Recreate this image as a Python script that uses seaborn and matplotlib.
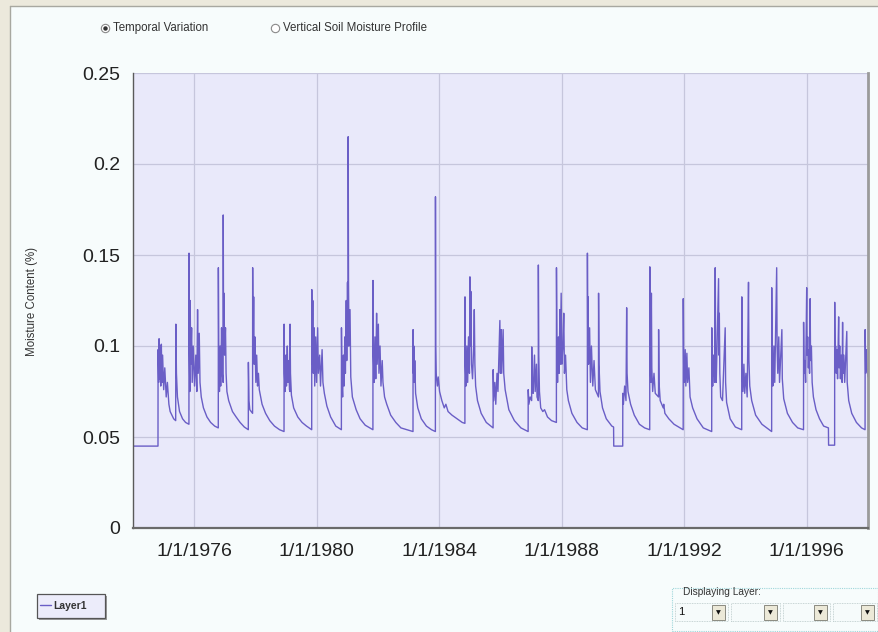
import matplotlib
matplotlib.use("Agg")
import matplotlib.pyplot as plt
import matplotlib.dates as mdates
from matplotlib.lines import Line2D
from matplotlib.patches import Rectangle
from matplotlib.ticker import FuncFormatter, FixedLocator
import pandas as pd
import seaborn as sns

# ---------------- data ----------------
series_name = "Layer1"
y_label = "Moisture Content (%)"
y_ticks = [0, 0.05, 0.1, 0.15, 0.2, 0.25]
y_tick_labels = ["0", "0.05", "0.1", "0.15", "0.2", "0.25"]
x_tick_years = [1976, 1980, 1984, 1988, 1992, 1996]
x_start, x_end = "1974-01-01", "1997-12-31"
radio_labels = ["Temporal Variation", "Vertical Soil Moisture Profile"]
layer_box_title = "Displaying Layer:"
layer_choices = ["1", "", "", ""]

period_1974_1979 = [
    ("1974-01-01", 0.045), ("1974-10-26", 0.045), ("1974-10-27", 0.098),
    ("1974-11-03", 0.080), ("1974-11-08", 0.104), ("1974-11-14", 0.082),
    ("1974-11-20", 0.100), ("1974-11-28", 0.078), ("1974-12-05", 0.101),
    ("1974-12-12", 0.080), ("1974-12-20", 0.095), ("1975-01-02", 0.076),
    ("1975-01-15", 0.088), ("1975-02-01", 0.072), ("1975-02-15", 0.080),
    ("1975-03-05", 0.068), ("1975-03-20", 0.064), ("1975-04-10", 0.062),
    ("1975-05-01", 0.060), ("1975-05-25", 0.059), ("1975-05-27", 0.112),
    ("1975-06-03", 0.085), ("1975-06-15", 0.072), ("1975-07-10", 0.064),
    ("1975-08-15", 0.060), ("1975-09-20", 0.058), ("1975-10-30", 0.057),
    ("1975-10-31", 0.151), ("1975-11-04", 0.100), ("1975-11-10", 0.075),
    ("1975-11-14", 0.125), ("1975-11-20", 0.090), ("1975-12-01", 0.110),
    ("1975-12-08", 0.080), ("1975-12-20", 0.100), ("1976-01-05", 0.078),
    ("1976-01-20", 0.095), ("1976-02-01", 0.075), ("1976-02-10", 0.120),
    ("1976-02-18", 0.085), ("1976-03-01", 0.107), ("1976-03-10", 0.080),
    ("1976-03-25", 0.072), ("1976-04-20", 0.066), ("1976-06-01", 0.061),
    ("1976-07-15", 0.058), ("1976-09-01", 0.056), ("1976-10-14", 0.055),
    ("1976-10-15", 0.143), ("1976-10-20", 0.095), ("1976-10-28", 0.075),
    ("1976-11-05", 0.100), ("1976-11-12", 0.078), ("1976-11-22", 0.110),
    ("1976-11-30", 0.085), ("1976-12-11", 0.080), ("1976-12-12", 0.172),
    ("1976-12-16", 0.105), ("1976-12-22", 0.129), ("1976-12-28", 0.095),
    ("1977-01-08", 0.110), ("1977-01-15", 0.085), ("1977-01-25", 0.075),
    ("1977-02-15", 0.070), ("1977-04-01", 0.064), ("1977-05-15", 0.061),
    ("1977-07-01", 0.058), ("1977-08-20", 0.0555), ("1977-10-07", 0.054),
    ("1977-10-08", 0.091), ("1977-10-15", 0.070), ("1977-10-25", 0.065),
    ("1977-11-27", 0.063), ("1977-11-28", 0.143), ("1977-12-03", 0.095),
    ("1977-12-10", 0.127), ("1977-12-16", 0.090), ("1977-12-25", 0.105),
    ("1978-01-05", 0.080), ("1978-01-15", 0.095), ("1978-01-25", 0.078),
    ("1978-02-05", 0.085), ("1978-02-15", 0.076), ("1978-03-20", 0.068),
    ("1978-05-01", 0.063), ("1978-06-20", 0.059), ("1978-08-15", 0.056),
    ("1978-10-15", 0.054), ("1978-12-07", 0.053), ("1978-12-08", 0.112),
    ("1978-12-12", 0.085), ("1978-12-20", 0.075), ("1978-12-28", 0.095),
    ("1979-01-05", 0.078), ("1979-01-15", 0.100), ("1979-01-22", 0.080),
    ("1979-02-01", 0.092), ("1979-02-10", 0.076), ("1979-02-16", 0.075),
    ("1979-02-17", 0.112), ("1979-02-22", 0.085), ("1979-03-05", 0.073),
    ("1979-04-01", 0.066), ("1979-05-20", 0.061), ("1979-07-10", 0.058),
    ("1979-09-01", 0.056), ("1979-11-02", 0.054), ("1979-11-03", 0.131),
    ("1979-11-08", 0.090), ("1979-11-15", 0.125), ("1979-11-22", 0.085),
    ("1979-12-01", 0.110), ("1979-12-08", 0.078), ("1979-12-20", 0.105),
    ("1979-12-30", 0.080),
]

period_1980_1985 = [
    ("1980-01-12", 0.110), ("1980-01-20", 0.085), ("1980-02-05", 0.095),
    ("1980-02-15", 0.078), ("1980-03-05", 0.098), ("1980-03-15", 0.080),
    ("1980-04-01", 0.074), ("1980-05-01", 0.067), ("1980-06-15", 0.061),
    ("1980-08-15", 0.056), ("1980-10-21", 0.054), ("1980-10-22", 0.110),
    ("1980-10-28", 0.080), ("1980-11-05", 0.072), ("1980-11-15", 0.095),
    ("1980-11-22", 0.078), ("1980-12-01", 0.105), ("1980-12-08", 0.085),
    ("1980-12-18", 0.125), ("1980-12-24", 0.092), ("1981-01-02", 0.135),
    ("1981-01-09", 0.100), ("1981-01-10", 0.215), ("1981-01-14", 0.135),
    ("1981-01-20", 0.100), ("1981-02-01", 0.120), ("1981-02-10", 0.083),
    ("1981-03-01", 0.072), ("1981-04-15", 0.065), ("1981-06-01", 0.060),
    ("1981-08-01", 0.0565), ("1981-11-01", 0.054), ("1981-11-02", 0.136),
    ("1981-11-07", 0.095), ("1981-11-15", 0.080), ("1981-11-25", 0.105),
    ("1981-12-05", 0.082), ("1981-12-15", 0.118), ("1981-12-22", 0.090),
    ("1982-01-05", 0.112), ("1982-01-12", 0.085), ("1982-01-25", 0.100),
    ("1982-02-05", 0.078), ("1982-02-20", 0.092), ("1982-03-01", 0.080),
    ("1982-03-20", 0.072), ("1982-04-15", 0.068), ("1982-06-01", 0.062),
    ("1982-08-01", 0.058), ("1982-10-01", 0.055), ("1983-02-22", 0.053),
    ("1983-02-23", 0.109), ("1983-02-27", 0.085), ("1983-03-04", 0.100),
    ("1983-03-10", 0.080), ("1983-03-15", 0.092), ("1983-03-25", 0.074),
    ("1983-04-20", 0.066), ("1983-06-01", 0.060), ("1983-08-01", 0.056),
    ("1983-10-01", 0.054), ("1983-11-16", 0.053), ("1983-11-17", 0.182),
    ("1983-11-20", 0.100), ("1983-11-25", 0.085), ("1983-12-10", 0.078),
    ("1983-12-20", 0.083), ("1984-01-05", 0.075), ("1984-02-01", 0.070),
    ("1984-03-01", 0.066), ("1984-03-20", 0.068), ("1984-04-15", 0.064),
    ("1984-06-01", 0.062), ("1984-08-01", 0.060), ("1984-10-01", 0.058),
    ("1984-11-02", 0.0575), ("1984-11-03", 0.127), ("1984-11-08", 0.090),
    ("1984-11-15", 0.078), ("1984-11-25", 0.100), ("1984-12-05", 0.080),
    ("1984-12-15", 0.105), ("1984-12-26", 0.085), ("1985-01-01", 0.138),
    ("1985-01-06", 0.100), ("1985-01-12", 0.130), ("1985-01-20", 0.090),
    ("1985-02-01", 0.082), ("1985-02-15", 0.100), ("1985-02-22", 0.120),
    ("1985-03-01", 0.090), ("1985-03-10", 0.078), ("1985-04-01", 0.070),
    ("1985-05-15", 0.063), ("1985-07-15", 0.058), ("1985-10-04", 0.055),
    ("1985-10-05", 0.087), ("1985-10-12", 0.070), ("1985-10-25", 0.080),
    ("1985-11-05", 0.068), ("1985-11-20", 0.085), ("1985-12-01", 0.075),
    ("1985-12-24", 0.114), ("1985-12-30", 0.085),
]

period_1986_1991 = [
    ("1986-01-10", 0.109), ("1986-01-15", 0.085), ("1986-02-01", 0.109),
    ("1986-02-08", 0.085), ("1986-02-25", 0.076), ("1986-04-10", 0.065),
    ("1986-06-15", 0.059), ("1986-09-01", 0.055), ("1986-11-26", 0.053),
    ("1986-11-27", 0.076), ("1986-12-05", 0.068), ("1986-12-20", 0.072),
    ("1987-01-07", 0.070), ("1987-01-08", 0.0995), ("1987-01-14", 0.078),
    ("1987-01-25", 0.074), ("1987-02-10", 0.095), ("1987-02-18", 0.075),
    ("1987-03-05", 0.090), ("1987-03-12", 0.072), ("1987-03-27", 0.070),
    ("1987-03-28", 0.1445), ("1987-04-02", 0.095), ("1987-04-10", 0.075),
    ("1987-04-25", 0.066), ("1987-05-20", 0.064), ("1987-06-10", 0.065),
    ("1987-07-15", 0.061), ("1987-09-01", 0.059), ("1987-10-29", 0.058),
    ("1987-10-30", 0.143), ("1987-11-05", 0.095), ("1987-11-12", 0.080),
    ("1987-11-22", 0.105), ("1987-12-01", 0.085), ("1987-12-10", 0.120),
    ("1987-12-15", 0.090), ("1987-12-25", 0.129), ("1988-01-02", 0.090),
    ("1988-01-15", 0.100), ("1988-01-25", 0.118), ("1988-02-02", 0.085),
    ("1988-02-15", 0.095), ("1988-03-01", 0.076), ("1988-03-20", 0.070),
    ("1988-05-01", 0.063), ("1988-07-01", 0.058), ("1988-09-01", 0.055),
    ("1988-11-01", 0.054), ("1988-11-02", 0.151), ("1988-11-06", 0.100),
    ("1988-11-10", 0.127), ("1988-11-16", 0.090), ("1988-11-28", 0.110),
    ("1988-12-08", 0.080), ("1988-12-20", 0.100), ("1989-01-05", 0.078),
    ("1989-01-20", 0.092), ("1989-02-05", 0.076), ("1989-03-14", 0.072),
    ("1989-03-15", 0.129), ("1989-03-20", 0.090), ("1989-04-01", 0.075),
    ("1989-05-01", 0.066), ("1989-06-15", 0.060), ("1989-08-20", 0.056),
    ("1989-09-10", 0.0555), ("1989-09-12", 0.045), ("1989-12-28", 0.045),
    ("1989-12-29", 0.074), ("1990-01-05", 0.068), ("1990-01-20", 0.078),
    ("1990-02-05", 0.070), ("1990-02-13", 0.121), ("1990-02-18", 0.085),
    ("1990-03-01", 0.075), ("1990-04-01", 0.068), ("1990-05-15", 0.062),
    ("1990-07-15", 0.057), ("1990-09-15", 0.055), ("1990-11-15", 0.054),
    ("1990-11-16", 0.1435), ("1990-11-20", 0.095), ("1990-11-28", 0.080),
    ("1990-12-05", 0.129), ("1990-12-10", 0.088), ("1990-12-20", 0.075),
    ("1991-01-05", 0.085), ("1991-01-20", 0.074), ("1991-02-28", 0.072),
    ("1991-03-01", 0.109), ("1991-03-06", 0.080), ("1991-03-20", 0.070),
    ("1991-04-25", 0.066), ("1991-05-01", 0.068), ("1991-05-15", 0.063),
    ("1991-07-01", 0.060), ("1991-09-01", 0.057), ("1991-12-19", 0.054),
    ("1991-12-20", 0.126), ("1991-12-25", 0.090),
]

period_1992_1997 = [
    ("1992-01-02", 0.080), ("1992-01-12", 0.098), ("1992-01-20", 0.078),
    ("1992-02-01", 0.096), ("1992-02-10", 0.080), ("1992-02-25", 0.088),
    ("1992-03-10", 0.072), ("1992-04-10", 0.066), ("1992-06-01", 0.060),
    ("1992-08-15", 0.055), ("1992-11-23", 0.053), ("1992-11-24", 0.110),
    ("1992-11-28", 0.085), ("1992-12-05", 0.078), ("1992-12-15", 0.095),
    ("1992-12-28", 0.080), ("1993-01-04", 0.143), ("1993-01-09", 0.095),
    ("1993-01-16", 0.080), ("1993-02-13", 0.137), ("1993-02-17", 0.095),
    ("1993-02-22", 0.118), ("1993-02-28", 0.085), ("1993-03-10", 0.072),
    ("1993-04-01", 0.070), ("1993-05-03", 0.110), ("1993-05-08", 0.080),
    ("1993-05-20", 0.069), ("1993-07-01", 0.060), ("1993-09-01", 0.0555),
    ("1993-11-16", 0.054), ("1993-11-17", 0.127), ("1993-11-22", 0.088),
    ("1993-12-01", 0.075), ("1993-12-12", 0.090), ("1993-12-22", 0.074),
    ("1994-01-05", 0.085), ("1994-01-20", 0.072), ("1994-02-05", 0.135),
    ("1994-02-10", 0.092), ("1994-02-20", 0.078), ("1994-03-15", 0.070),
    ("1994-05-01", 0.062), ("1994-07-15", 0.057), ("1994-11-08", 0.053),
    ("1994-11-09", 0.132), ("1994-11-14", 0.090), ("1994-11-22", 0.078),
    ("1994-12-05", 0.100), ("1994-12-15", 0.080), ("1995-01-07", 0.143),
    ("1995-01-12", 0.100), ("1995-01-20", 0.085), ("1995-02-01", 0.105),
    ("1995-02-10", 0.080), ("1995-03-10", 0.109), ("1995-03-15", 0.082),
    ("1995-04-01", 0.071), ("1995-05-15", 0.063), ("1995-07-15", 0.058),
    ("1995-09-15", 0.055), ("1995-11-23", 0.054), ("1995-11-24", 0.113),
    ("1995-11-29", 0.085), ("1995-12-08", 0.092), ("1995-12-18", 0.080),
    ("1995-12-31", 0.132), ("1996-01-05", 0.095), ("1996-01-12", 0.105),
    ("1996-01-20", 0.088), ("1996-01-28", 0.098), ("1996-02-03", 0.085),
    ("1996-02-10", 0.126), ("1996-02-15", 0.092), ("1996-02-25", 0.100),
    ("1996-03-05", 0.080), ("1996-03-20", 0.072), ("1996-04-20", 0.065),
    ("1996-06-01", 0.060), ("1996-07-20", 0.056), ("1996-09-15", 0.055),
    ("1996-09-17", 0.0455), ("1996-11-28", 0.0455), ("1996-11-29", 0.124),
    ("1996-12-03", 0.090), ("1996-12-10", 0.100), ("1996-12-18", 0.085),
    ("1996-12-25", 0.098), ("1997-01-02", 0.082), ("1997-01-15", 0.116),
    ("1997-01-20", 0.088), ("1997-01-28", 0.100), ("1997-02-05", 0.082),
    ("1997-02-15", 0.095), ("1997-02-25", 0.080), ("1997-03-03", 0.113),
    ("1997-03-08", 0.085), ("1997-03-18", 0.095), ("1997-03-28", 0.080),
    ("1997-04-22", 0.108), ("1997-04-27", 0.080), ("1997-05-15", 0.070),
    ("1997-06-20", 0.063), ("1997-08-15", 0.058), ("1997-10-15", 0.055),
    ("1997-11-26", 0.054), ("1997-11-27", 0.109), ("1997-12-03", 0.085),
    ("1997-12-10", 0.098), ("1997-12-20", 0.088), ("1997-12-31", 0.083),
]

# ---------------- build table ----------------
rows = period_1974_1979 + period_1980_1985 + period_1986_1991 + period_1992_1997
df = pd.DataFrame(rows, columns=["date", "moisture"])
df["date"] = pd.to_datetime(df["date"])

# ---------------- styling ----------------
W, H = 879, 632
sns.set_style("white")
plt.rcParams["font.family"] = ["Liberation Sans", "DejaVu Sans"]

fig = plt.figure(figsize=(W / 100, H / 100), dpi=100)
fig.patch.set_facecolor("#f7fcfc")

def fx(x):
    return x / W

def fy(y):
    return 1 - y / H

def rect(x0, y0, x1, y1, **kw):
    fig.add_artist(Rectangle((fx(x0), fy(y1)), (x1 - x0) / W, (y1 - y0) / H,
                             transform=fig.transFigure, **kw))

# window frame strips
rect(0, 0, 10, H, facecolor="#ece9dc", edgecolor="none")
rect(0, 0, W, 6, facecolor="#ece9dc", edgecolor="none")
fig.add_artist(Line2D([fx(10), fx(10)], [fy(6), fy(H)], transform=fig.transFigure,
                      color="#a8a8a0", lw=1))
fig.add_artist(Line2D([fx(10), fx(W)], [fy(6), fy(6)], transform=fig.transFigure,
                      color="#a8a8a0", lw=1))

ax = fig.add_axes([133 / W, 1 - 528 / H, 735 / W, 455 / H])
ax.set_facecolor("#e9e9fa")

line_color = "#6a5ec6"
sns.lineplot(data=df, x="date", y="moisture", ax=ax, color=line_color,
             linewidth=1.0, estimator=None, legend=False)

ax.set_xlim(pd.Timestamp(x_start), pd.Timestamp(x_end))
ax.set_ylim(0, 0.25)
ax.yaxis.set_major_locator(FixedLocator(y_ticks))
ax.set_yticklabels(y_tick_labels)
ax.xaxis.set_major_locator(FixedLocator(
    [mdates.date2num(pd.Timestamp(f"{y}-01-01")) for y in x_tick_years]))
ax.xaxis.set_major_formatter(FuncFormatter(
    lambda v, p: (lambda d: f"{d.month}/{d.day}/{d.year}")(mdates.num2date(v))))

ax.grid(True, color="#c6c6dc", linewidth=0.9)
ax.set_axisbelow(True)
ax.spines["top"].set_visible(False)
ax.spines["left"].set_color("#5a5a5a")
ax.spines["left"].set_linewidth(1.0)
ax.spines["bottom"].set_color("#6a6a6a")
ax.spines["bottom"].set_linewidth(1.6)
ax.spines["right"].set_color("#9a9a9a")
ax.spines["right"].set_linewidth(2.0)
ax.tick_params(axis="both", direction="out", length=7, width=1, color="#555555",
               labelsize=14, labelcolor="#222222")
ax.tick_params(axis="y", pad=2)
ax.tick_params(axis="x", pad=4)
ax.set_xlabel("")
ax.set_ylabel(y_label, fontsize=8.3, color="#333333")
ax.yaxis.set_label_coords((38 - 133) / 735, 0.497)

# radio buttons at the top
radio_x = [105, 275]
for i, (rx, lab) in enumerate(zip(radio_x, radio_labels)):
    fig.add_artist(Line2D([fx(rx)], [fy(28)], transform=fig.transFigure, marker="o",
                          markersize=6, markerfacecolor="white",
                          markeredgecolor="#8a8a8a", markeredgewidth=0.8))
    if i == 0:
        fig.add_artist(Line2D([fx(rx)], [fy(28)], transform=fig.transFigure,
                              marker="o", markersize=2.2, color="#333333"))
    fig.text(fx(rx + 8), fy(28), lab, fontsize=8.3, va="center", ha="left",
             color="#333333")

# legend box bottom-left (frame drawn as a window-style box)
rect(39, 596, 107, 620, facecolor="#9a9a9a", edgecolor="none")
rect(37, 594, 105, 618, facecolor="#ececfa", edgecolor="#555555", lw=0.9)
leg = fig.legend(handles=[Line2D([], [], color=line_color, lw=1)],
                 labels=[series_name], loc="center left",
                 bbox_to_anchor=(fx(38), fy(606)), frameon=False,
                 fontsize=7.5, handlelength=1.0, handletextpad=0.3,
                 borderpad=0.2, borderaxespad=0)
for t in leg.get_texts():
    t.set_fontweight("bold")
    t.set_color("#333333")

# "Displaying Layer" group bottom-right
rect(672, 588, 878, 631, facecolor="none", edgecolor="#9ed6da", lw=0.8,
     linestyle=(0, (1, 1)))
fig.text(fx(683), fy(592), layer_box_title, fontsize=7.3, va="center",
         ha="left", color="#333333")
combo_x = [(675, 728), (731, 780), (783, 830), (833, 877)]
for (x0, x1), val in zip(combo_x, layer_choices):
    rect(x0, 603, x1, 621, facecolor="#f6fbfb", edgecolor="#b8c8c8", lw=0.6,
         linestyle=(0, (1, 1)))
    rect(x1 - 16, 605, x1 - 3, 620, facecolor="#ece9d8", edgecolor="#7a7a70", lw=0.6)
    fig.text(fx(x1 - 9.5), fy(613), "\u25bc", fontsize=4.5, ha="center",
             va="center", color="#111111", family="DejaVu Sans")
    if val:
        fig.text(fx(x0 + 3), fy(612), val, fontsize=8, ha="left", va="center",
                 color="#111111")

fig.savefig("out.png", dpi=100, facecolor=fig.get_facecolor())
